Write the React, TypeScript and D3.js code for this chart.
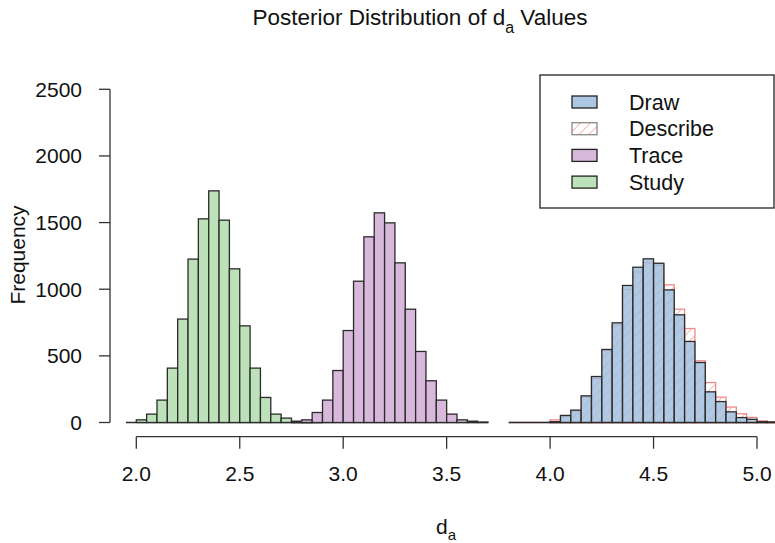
import React from 'react';
import * as d3 from 'd3';

// histogram breaks are 0.05 wide; each series lists counts from its first break
const binWidth = 0.05;

const studyStart = 1.95;
const studyCounts = [0, 20, 63, 168, 408, 776, 1226, 1528, 1738, 1518, 1153, 725, 408, 188, 63, 33, 10, 3, 0];

const traceStart = 2.75;
const traceCounts = [0, 20, 75, 168, 390, 690, 1060, 1393, 1573, 1498, 1198, 850, 533, 313, 168, 63, 20, 10, 3];

const drawStart = 3.8;
const drawCounts = [0, 0, 0, 0, 6, 53, 93, 200, 345, 548, 748, 1028, 1165, 1228, 1195, 995, 808, 608, 450, 230, 157, 80, 37, 24, 6, 3];

const describeStart = 3.8;
const describeCounts = [0, 0, 0, 0, 20, 45, 85, 190, 330, 540, 730, 1000, 1130, 1200, 1180, 1033, 850, 705, 463, 300, 190, 116, 66, 38, 12, 6];

const xTicks = [2.0, 2.5, 3.0, 3.5, 4.0, 4.5, 5.0];
const yTicks = [0, 500, 1000, 1500, 2000, 2500];

const legendItems = ['Draw', 'Describe', 'Trace', 'Study'];

const FONT = '"Liberation Sans", Arial, sans-serif';

const toBins = (start: number, counts: number[]) =>
  counts.map((c, i) => ({ x0: start + i * binWidth, x1: start + (i + 1) * binWidth, count: c }));

const App: React.FC = () => {
  const width = 775;
  const height = 543;

  const x = d3.scaleLinear().domain([2, 5]).range([136.3, 757]);
  const y = d3.scaleLinear().domain([0, 2500]).range([422.5, 89.3]);

  const axisY = 436.7;
  const axisX = 110;

  const bars = (start: number, counts: number[], fill: string, stroke: string, opacity = 1) => {
    const bins = toBins(start, counts);
    return (
      <>
        {/* zero-count bins still show as a line along the bottom */}
        <line
          x1={x(bins[0].x0)}
          x2={x(bins[bins.length - 1].x1)}
          y1={y(0)}
          y2={y(0)}
          stroke={stroke}
          strokeWidth={1.3}
        />
        {bins.filter(b => b.count > 0).map((b, i) => (
          <rect
            key={i}
            x={x(b.x0)}
            y={y(b.count)}
            width={x(b.x1) - x(b.x0)}
            height={y(0) - y(b.count)}
            fill={fill}
            fillOpacity={opacity}
            stroke={stroke}
            strokeWidth={1.3}
          />
        ))}
      </>
    );
  };

  const swatch: Record<string, { fill: string; stroke: string; op: number }> = {
    Draw: { fill: '#9cbddc', stroke: '#222', op: 0.85 },
    Describe: { fill: 'url(#hatch)', stroke: '#888', op: 1 },
    Trace: { fill: '#d8b9dc', stroke: '#222', op: 1 },
    Study: { fill: '#bde2b9', stroke: '#222', op: 1 },
  };

  return (
    <svg
      width={width}
      height={height}
      style={{ position: 'absolute', left: 0, top: 0, background: '#fff' }}
      fontFamily={FONT}
    >
      <defs>
        <pattern id="hatch" patternUnits="userSpaceOnUse" width="7" height="7" patternTransform="rotate(45)">
          <line x1="0" y1="0" x2="0" y2="7" stroke="#ec6a6a" strokeWidth="1" />
        </pattern>
      </defs>

      {/* Title */}
      <text x={420} y={25} textAnchor="middle" fontSize={22.5} fill="#111">
        Posterior Distribution of d
        <tspan fontSize={16} dy={8}>a</tspan>
        <tspan dy={-8}> Values</tspan>
      </text>

      {/* Histograms */}
      <g>{bars(studyStart, studyCounts, '#bde2b9', '#2b2b2b')}</g>
      <g>{bars(traceStart, traceCounts, '#d8b9dc', '#2b2b2b')}</g>
      <g>{bars(describeStart, describeCounts, 'url(#hatch)', '#f08a8a')}</g>
      <g>{bars(drawStart, drawCounts, '#9cbddc', '#2b2b2b', 0.8)}</g>

      {/* Y axis */}
      <g stroke="#333" strokeWidth={1.3}>
        <line x1={axisX} x2={axisX} y1={y(0)} y2={y(2500)} />
        {yTicks.map(t => (
          <line key={t} x1={axisX - 11} x2={axisX} y1={y(t)} y2={y(t)} />
        ))}
      </g>
      {yTicks.map(t => (
        <text key={t} x={82} y={y(t)} dy="0.35em" textAnchor="end" fontSize={21} fill="#111">
          {t}
        </text>
      ))}
      <text transform="translate(25,255) rotate(-90)" textAnchor="middle" fontSize={21} fill="#111">
        Frequency
      </text>

      {/* X axis */}
      <g stroke="#333" strokeWidth={1.3}>
        <line x1={x(2)} x2={x(5)} y1={axisY} y2={axisY} />
        {xTicks.map(t => (
          <line key={t} x1={x(t)} x2={x(t)} y1={axisY} y2={axisY + 12} />
        ))}
      </g>
      {xTicks.map(t => (
        <text key={t} x={x(t)} y={481} textAnchor="middle" fontSize={21} fill="#111">
          {t.toFixed(1)}
        </text>
      ))}
      <text x={446} y={534} textAnchor="middle" fontSize={21} fill="#111">
        d<tspan fontSize={15} dy={6}>a</tspan>
      </text>

      {/* Legend */}
      <rect x={540} y={75} width={234} height={133} fill="#fff" stroke="#222" strokeWidth={1.3} />
      {legendItems.map((name, i) => {
        const cy = 102 + i * 26.7;
        const s = swatch[name];
        return (
          <g key={name}>
            <rect x={572} y={cy - 6} width={25} height={12} fill={s.fill} fillOpacity={s.op} stroke={s.stroke} strokeWidth={1.3} />
            <text x={629} y={cy} dy="0.35em" fontSize={21.5} fill="#111">
              {name}
            </text>
          </g>
        );
      })}
    </svg>
  );
};

export default App;
